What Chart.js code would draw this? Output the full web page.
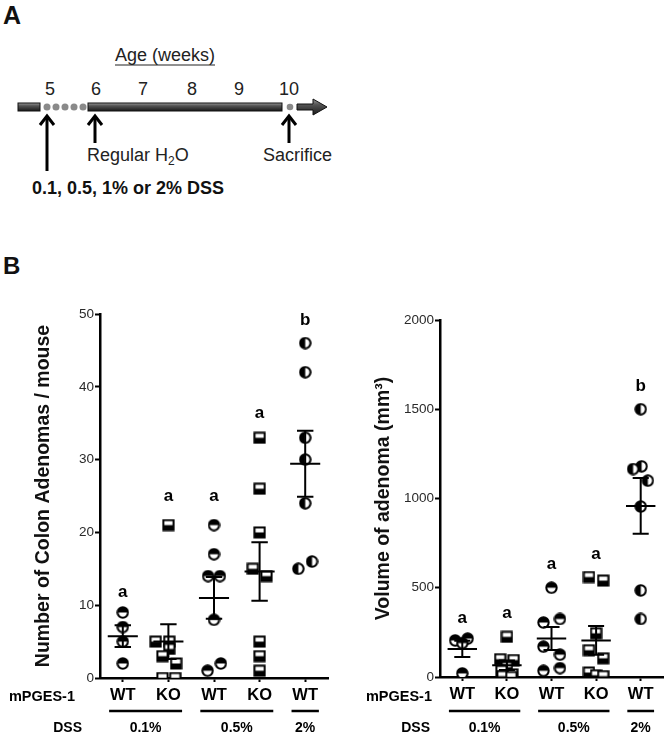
<!DOCTYPE html>
<html>
<head>
<meta charset="utf-8">
<title>mPGES-1 DSS adenomas</title>
<script src="https://cdn.jsdelivr.net/npm/chart.js@4.4.0/dist/chart.umd.min.js"></script>
<style>
  body { margin: 0; background: #fff; width: 669px; height: 736px; overflow: hidden; position: relative;
         font-family: "Liberation Sans", Arial, sans-serif; }
  #panelA { position: absolute; left: 0; top: 0; }
  .panel-letter { position: absolute; left: 3px; font: bold 24px "Liberation Sans", Arial, sans-serif; color: #111; }
  #countBox { position: absolute; left: 0; top: 290px; }
  #volumeBox { position: absolute; left: 340px; top: 290px; }
</style>
</head>
<body>

<!-- Panel A: treatment timeline -->
<svg id="panelA" width="669" height="240" font-family="Liberation Sans, Arial, sans-serif">
  <defs>
    <linearGradient id="barShade" x1="0" y1="0" x2="0" y2="1">
      <stop offset="0" stop-color="#9a9a9a"/>
      <stop offset="0.35" stop-color="#555"/>
      <stop offset="1" stop-color="#1a1a1a"/>
    </linearGradient>
  </defs>
  <text x="3" y="24" font-size="25" font-weight="bold" fill="#111">A</text>

  <text x="115" y="61" font-size="18" fill="#222">Age (weeks)</text>
  <line x1="115" y1="65" x2="215" y2="65" stroke="#222" stroke-width="1.2"/>

  <g font-size="18" fill="#222" text-anchor="middle">
    <text x="50" y="95">5</text>
    <text x="96" y="95">6</text>
    <text x="143" y="95">7</text>
    <text x="192" y="95">8</text>
    <text x="239" y="95">9</text>
    <text x="289" y="95">10</text>
  </g>

  <rect x="18" y="103" width="22" height="8" fill="url(#barShade)" stroke="#111" stroke-width="1"/>
  <g fill="#8a8a8a">
    <circle cx="47" cy="107" r="3.5"/>
    <circle cx="56" cy="107" r="3.5"/>
    <circle cx="65" cy="107" r="3.5"/>
    <circle cx="74" cy="107" r="3.5"/>
    <circle cx="83" cy="107" r="3.5"/>
    <circle cx="290" cy="107" r="3.3"/>
  </g>
  <rect x="88" y="103" width="194" height="8" fill="url(#barShade)" stroke="#111" stroke-width="1"/>
  <polygon points="297,104 313,104 313,99 327,107 313,115 313,110 297,110" fill="url(#barShade)" stroke="#111" stroke-width="1"/>

  <g stroke="#000" stroke-width="3" fill="none">
    <line x1="47" y1="171" x2="47" y2="116"/>
    <polyline points="40,125 47,116 54,125"/>
    <line x1="95" y1="143" x2="95" y2="116"/>
    <polyline points="88,125 95,116 102,125"/>
    <line x1="289" y1="143" x2="289" y2="116"/>
    <polyline points="282,125 289,116 296,125"/>
  </g>

  <text x="87" y="161" font-size="18" fill="#222">Regular H<tspan font-size="12" dy="4">2</tspan><tspan dy="-4">O</tspan></text>
  <text x="263" y="161" font-size="18" fill="#222">Sacrifice</text>
  <text x="32" y="194" font-size="18" font-weight="bold" fill="#111">0.1, 0.5, 1% or 2% DSS</text>
</svg>

<div class="panel-letter" style="top:252px">B</div>

<div id="countBox"><canvas id="countChart" width="340" height="446"></canvas></div>
<div id="volumeBox"><canvas id="volumeChart" width="329" height="446"></canvas></div>

<script>
// groups along the x axis
const genotypes = ['WT', 'KO', 'WT', 'KO', 'WT'];
const dssLevels = ['0.1%', '0.5%', '2%'];
const dssFirst = [1, 3, 5];
const dssLast = [2, 4, 5];

// number of colon adenomas per mouse
const countValues = [
  [9, 7, 5, 2],
  [21, 5, 5, 4, 3, 2, 0, 0],
  [21, 17, 14, 14, 8, 2, 1],
  [33, 26, 20, 15, 14, 5, 3, 1],
  [46, 42, 33, 30, 24, 16, 15]
];
const countJitter = [
  [0, 0, 0, 0],
  [0, -0.28, 0.02, 0.02, -0.13, 0.17, -0.13, 0.15],
  [0, 0, -0.13, 0.13, 0, 0.15, -0.14],
  [0, 0, 0, -0.15, 0.15, 0, 0, 0],
  [0, 0, 0, 0, 0, 0.15, -0.15]
];
const countLetters = ['a', 'a', 'a', 'a', 'b'];
const countLetterAt = [11.8, 25, 25, 36.4, 49.2];
const countTicks = [0, 10, 20, 30, 40, 50];

// volume of adenoma (mm3)
const volumeValues = [
  [205, 215, 190, 20],
  [225, 100, 95, 55, 35, 15, 5, 0],
  [500, 305, 325, 170, 125, 35, 50],
  [560, 540, 245, 150, 105, 25, 10, 5],
  [1500, 1180, 1165, 1100, 955, 485, 325]
];
const volumeJitter = [
  [-0.16, 0.12, 0, 0],
  [0, -0.15, 0.15, 0, -0.12, 0.12, -0.1, 0.1],
  [0, -0.18, 0.19, -0.18, 0.19, -0.18, 0.19],
  [-0.16, 0.16, 0, -0.16, 0.16, -0.16, 0, 0.16],
  [0, 0.02, -0.17, 0.16, 0, 0, 0]
];
const volumeLetters = ['a', 'a', 'a', 'a', 'b'];
const volumeLetterAt = [330, 358, 633, 690, 1630];
const volumeTicks = [0, 500, 1000, 1500, 2000];

const FONT = '"Liberation Sans", Arial, sans-serif';

// half filled symbols like the GraphPad ones
function makeMarker(shape, split) {
  const c = document.createElement('canvas');
  c.width = 13; c.height = 13;
  const g = c.getContext('2d');
  const outline = () => {
    g.beginPath();
    if (shape === 'circle') g.arc(6.5, 6.5, 5.2, 0, Math.PI * 2);
    else g.rect(1.4, 1.4, 10.2, 10.2);
  };
  outline(); g.fillStyle = '#fff'; g.fill();
  g.save(); outline(); g.clip();
  g.fillStyle = '#000';
  if (split === 'top') g.fillRect(0, 0, 13, 6.5);
  else if (split === 'bottom') g.fillRect(0, 6.5, 13, 6.5);
  else g.fillRect(0, 0, 6.5, 13);
  g.restore();
  outline(); g.lineWidth = 2; g.strokeStyle = '#000'; g.stroke();
  return c;
}
const wtMarker = makeMarker('circle', 'top');
const koMarker = makeMarker('square', 'bottom');
const wt2Marker = makeMarker('circle', 'left');
const groupMarkers = [wtMarker, koMarker, wtMarker, koMarker, wt2Marker];

// mean line + SEM whiskers, as one broken line
function semSegments(groups) {
  const pts = [];
  groups.forEach((vals, i) => {
    const c = i + 1, n = vals.length;
    const m = vals.reduce((a, b) => a + b, 0) / n;
    const sd = Math.sqrt(vals.reduce((a, b) => a + (b - m) ** 2, 0) / (n - 1));
    const se = sd / Math.sqrt(n);
    pts.push(
      { x: c - 0.33, y: m }, { x: c + 0.33, y: m }, { x: c, y: null },
      { x: c, y: m - se }, { x: c, y: m + se }, { x: c, y: null },
      { x: c - 0.18, y: m + se }, { x: c + 0.18, y: m + se }, { x: c, y: null },
      { x: c - 0.18, y: m - se }, { x: c + 0.18, y: m - se }, { x: c, y: null }
    );
  });
  return pts;
}

const groupLabels = {
  id: 'groupLabels',
  afterDraw(chart, args, opts) {
    const { ctx, chartArea } = chart;
    const x = chart.scales.x, y = chart.scales.y;
    ctx.save();
    ctx.fillStyle = '#000';
    ctx.strokeStyle = '#000';
    ctx.textBaseline = 'middle';

    // significance letters
    ctx.textAlign = 'center';
    ctx.font = 'bold 17px ' + FONT;
    opts.letters.forEach((t, i) => ctx.fillText(t, x.getPixelForValue(i + 1), y.getPixelForValue(opts.letterAt[i])));

    // row captions
    ctx.textAlign = 'right';
    ctx.font = 'bold 14.5px ' + FONT;
    ctx.fillText('mPGES-1', chartArea.left + opts.rowLabelX[0], opts.genoY);
    ctx.font = 'bold 14px ' + FONT;
    ctx.fillText('DSS', chartArea.left + opts.rowLabelX[1], opts.dssY);

    // DSS brackets
    ctx.textAlign = 'center';
    ctx.lineWidth = 2.5;
    dssLevels.forEach((lvl, i) => {
      const a = x.getPixelForValue(dssFirst[i] - 0.3);
      const b = x.getPixelForValue(dssLast[i] + 0.3);
      ctx.beginPath();
      ctx.moveTo(a, opts.lineY);
      ctx.lineTo(b, opts.lineY);
      ctx.stroke();
      ctx.fillText(lvl, (a + b) / 2, opts.dssY);
    });
    ctx.restore();
  }
};

function buildChart(id, values, jitter, ticks, title, letters, letterAt, pad, xHeight, rowLabelX) {
  const datasets = [{
    type: 'line',
    data: semSegments(values),
    borderColor: '#000',
    borderWidth: 2,
    pointRadius: 0,
    spanGaps: false,
    showLine: true
  }];
  values.forEach((vals, i) => {
    datasets.push({
      data: vals.map((v, j) => ({ x: i + 1 + jitter[i][j], y: v })),
      pointStyle: groupMarkers[i],
      pointRadius: 5
    });
  });

  return new Chart(document.getElementById(id), {
    type: 'scatter',
    data: { datasets: datasets },
    options: {
      responsive: false,
      animation: false,
      layout: { padding: pad },
      plugins: {
        legend: { display: false },
        tooltip: { enabled: false },
        groupLabels: { letters: letters, letterAt: letterAt, rowLabelX: rowLabelX, genoY: 407, lineY: 421, dssY: 438 }
      },
      scales: {
        x: {
          type: 'linear',
          min: 0.5,
          max: 5.5,
          afterBuildTicks: s => { s.ticks = genotypes.map((g, i) => ({ value: i + 1 })); },
          afterFit: s => { s.height = xHeight; },
          ticks: {
            callback: v => genotypes[v - 1],
            color: '#000',
            font: { family: FONT, size: 16.5, weight: 'bold' },
            padding: 4,
            maxRotation: 0,
            autoSkip: false
          },
          grid: { drawOnChartArea: false, tickLength: 4, tickWidth: 2, tickColor: '#000' },
          border: { color: '#000', width: 2.5 }
        },
        y: {
          min: ticks[0],
          max: ticks[ticks.length - 1],
          afterBuildTicks: s => { s.ticks = ticks.map(v => ({ value: v })); },
          afterFit: s => { s.width = 100; },
          ticks: {
            callback: v => String(v),
            color: '#2a2a2a',
            font: { family: FONT, size: 13.5 },
            padding: 1
          },
          grid: { drawOnChartArea: false, tickLength: 5, tickWidth: 2, tickColor: '#000' },
          border: { color: '#000', width: 2.5 },
          title: {
            display: true,
            text: title,
            color: '#111',
            font: { family: FONT, size: 19.5, weight: 'bold' },
            padding: { top: 32, bottom: 0 }
          }
        }
      }
    },
    plugins: [groupLabels]
  });
}

buildChart('countChart', countValues, countJitter, countTicks,
  'Number of Colon Adenomas / mouse', countLetters, countLetterAt,
  { top: 24, right: 12, left: 0, bottom: 0 }, 58, [-25, -18]);

buildChart('volumeChart', volumeValues, volumeJitter, volumeTicks,
  'Volume of adenoma (mm³)', volumeLetters, volumeLetterAt,
  { top: 30, right: 4, left: 0, bottom: 0 }, 59, [-8, -10]);
</script>
</body>
</html>
